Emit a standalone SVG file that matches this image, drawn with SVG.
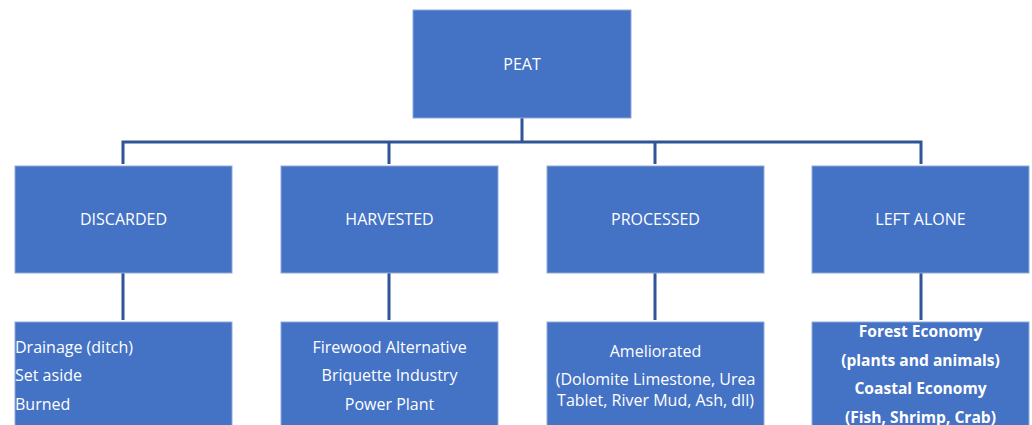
<svg xmlns="http://www.w3.org/2000/svg" width="1032" height="425" viewBox="0 0 1032 425">
<style>
.box{fill:#4472C4;stroke:#8FAADC;stroke-width:1}
.t{font-family:"Open Sans","Liberation Sans",sans-serif;font-size:16px;fill:#FFFFFF;text-anchor:middle}
.l{text-anchor:start}
.b{font-weight:bold;font-size:15.6px}
.c{stroke:#2F5597;stroke-width:3;fill:none}
</style>
<rect width="1032" height="425" fill="#FFFFFF"/>
<g id="connectors">
<path class="c" d="M522 118V142M123 164V142H921V164M389 142V164M655 142V164"/>
<path class="c" d="M123 273V320M389 273V320M655 273V320M921 273V320"/>
</g>
<g id="peat"><rect class="box" x="413" y="10" width="218" height="108"/><text class="t" x="522" y="70">PEAT</text></g>
<g id="discarded"><rect class="box" x="15" y="166" width="217" height="107"/><text class="t" x="123.5" y="225">DISCARDED</text></g>
<g id="harvested"><rect class="box" x="281" y="166" width="217" height="107"/><text class="t" x="389.5" y="225">HARVESTED</text></g>
<g id="processed"><rect class="box" x="547" y="166" width="217" height="107"/><text class="t" x="655.5" y="225">PROCESSED</text></g>
<g id="leftalone"><rect class="box" x="812" y="166" width="217" height="107"/><text class="t" x="920.5" y="225">LEFT ALONE</text></g>
<g id="discarded-uses"><rect class="box" x="15" y="322" width="217" height="110"/>
<text class="t l" x="15" y="353">Drainage (ditch)</text>
<text class="t l" x="15" y="381">Set aside</text>
<text class="t l" x="15" y="410">Burned</text></g>
<g id="harvested-uses"><rect class="box" x="281" y="322" width="217" height="110"/>
<text class="t" x="389.5" y="353">Firewood Alternative</text>
<text class="t" x="389.5" y="381">Briquette Industry</text>
<text class="t" x="389.5" y="410">Power Plant</text></g>
<g id="processed-uses"><rect class="box" x="547" y="322" width="217" height="110"/>
<text class="t" x="655.5" y="357">Ameliorated</text>
<text class="t" x="655.5" y="385">(Dolomite Limestone, Urea</text>
<text class="t" x="655.5" y="406">Tablet, River Mud, Ash, dll)</text></g>
<g id="leftalone-uses"><rect class="box" x="812" y="322" width="217" height="110"/>
<text class="t b" x="920.5" y="337">Forest Economy</text>
<text class="t b" x="920.5" y="366">(plants and animals)</text>
<text class="t b" x="920.5" y="394">Coastal Economy</text>
<text class="t b" x="920.5" y="423">(Fish, Shrimp, Crab)</text></g>
</svg>
